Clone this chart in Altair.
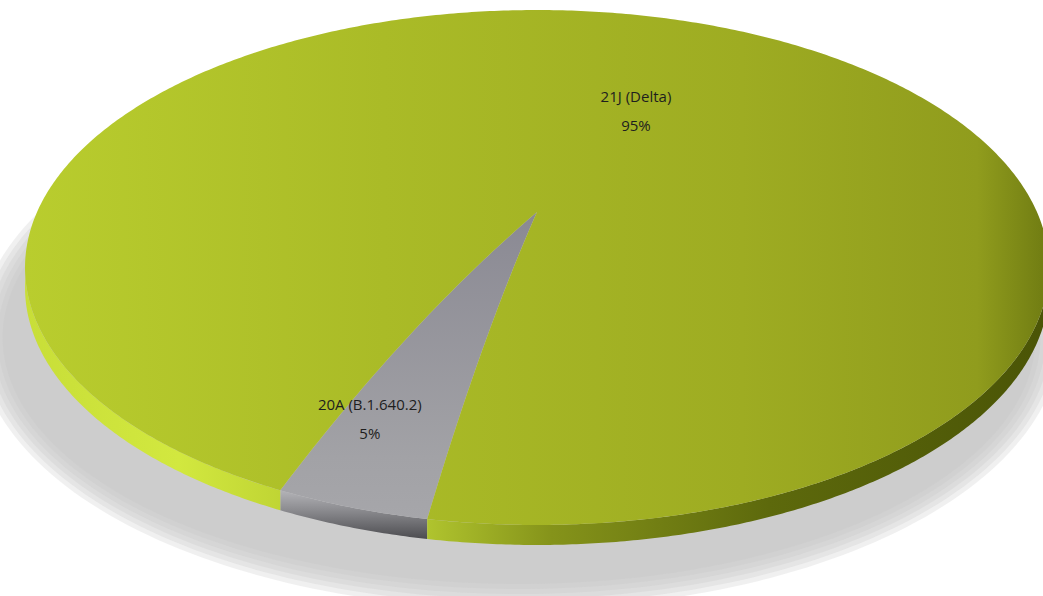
import numpy as np
import pandas as pd
import altair as alt

# ---------------- data ----------------
CATEGORIES = ["20A (B.1.640.2)", "21J (Delta)"]
VALUES = [5, 95]
PCT_LABELS = ["5%", "95%"]

# ---------------- view geometry (perspective, slightly domed pie) ----------------
W, H = 1043, 596
CX, CY = 537.0, 272.0      # projected pie centre (flat)
A, B = 511.9, 257.4        # horizontal / depth radius
K = -0.0175                # perspective strength
DOME = 60.0                # apparent lift of the centre
THICK = 20                 # visible thickness of the pie
START = 102.6              # angle of first slice (deg, clockwise from east)
LABEL_POLAR = [(116.0, 0.754), (293.4, 0.483)]   # label anchor (angle, radius)
SHADOW_SHIFT = (-18.0, 70.0)
SHADOW_SX = 1.03


def proj(u, v):
    w = 1 - K * v
    r2 = u * u + v * v
    return CX + A * u / w, CY + (B * v - DOME * (1 - r2)) / w


def arc(t0, t1, n, r=1.0):
    t = np.radians(np.linspace(t0, t1, n))
    return proj(r * np.cos(t), r * np.sin(t))


def ray(t, r0, r1, n):
    r = np.linspace(r0, r1, n)
    tt = np.radians(t)
    return proj(r * np.cos(tt), r * np.sin(tt))


def poly_df(xs, ys):
    return pd.DataFrame({"x": xs, "y": ys, "i": np.arange(len(xs))})


total = float(sum(VALUES))
bounds = []
acc = START
for v in VALUES:
    span = 360.0 * v / total
    bounds.append((acc, acc + span))
    acc += span

X = alt.X("x:Q", scale=alt.Scale(domain=[0, W], nice=False, zero=False), axis=None)
Y = alt.Y("y:Q", scale=alt.Scale(domain=[0, H], nice=False, zero=False, reverse=True), axis=None)


def shape_layer(df, fill, opacity=1.0):
    return alt.Chart(df).mark_line(
        interpolate="linear-closed", fill=fill, strokeWidth=0, fillOpacity=opacity, clip=True
    ).encode(x=X, y=Y, order="i:Q")


def lin(stops, x1=0, y1=0, x2=1, y2=0):
    return alt.Gradient(
        gradient="linear", x1=x1, y1=y1, x2=x2, y2=y2,
        stops=[alt.GradientStop(color=c, offset=o) for o, c in stops],
    )


layers = []

# ---- soft shadow (pie outline, shifted and blurred) ----
ox, oy = arc(0, 360, 240)
ECX, ECY = CX, 267.0
for d in [14, 9, 4, -1, -6, -11]:
    sx = SHADOW_SX + d / 512.0
    sy = 1 + d / 258.0
    xs = ECX + (ox - ECX) * sx + SHADOW_SHIFT[0]
    ys = ECY + (oy - ECY) * sy + SHADOW_SHIFT[1]
    layers.append(shape_layer(poly_df(xs, ys), "#c2c2c2", 0.25))

# ---- sides ----
side_fills = {
    0: [lin([(0, "#b4b4b8"), (0.4, "#8c8c90"), (1, "#4c4c50")], 0, 0, 0, 1)],
    1: [lin([(0, "#c8de38"), (0.6, "#d2e83f"), (1, "#c0d534")], 0, 0, 1, 0),
        lin([(0, "#b0c42e"), (0.2, "#85931a"), (0.55, "#5d690c"), (1, "#4a5406")], 0, 0, 1, 0)],
}
for si, (s0, s1) in enumerate(bounds):
    piece = 0
    for k in (0, 1):
        lo, hi = max(s0, 360 * k), min(s1, 180 + 360 * k)
        if lo < hi:
            n = max(int((hi - lo) * 2), 20)
            tx, ty = arc(lo, hi, n)
            xs = np.concatenate([tx, tx[::-1]])
            ys = np.concatenate([ty, ty[::-1] + THICK])
            fills = side_fills[si]
            layers.append(shape_layer(poly_df(xs, ys), fills[min(piece, len(fills) - 1)]))
            piece += 1

# ---- top faces ----
top_fills = [
    lin([(0, "#8a8993"), (0.8, "#a2a2a6"), (1, "#a6a6aa")], 0, 0, 0, 1),
    lin([(0, "#b9cd2e"), (0.35, "#aabb27"), (0.7, "#9eac22"), (0.93, "#909c1d"), (1, "#6f7b12")], 0, 0.5, 1, 0.5),
]
for si, (s0, s1) in enumerate(bounds):
    n = max(int((s1 - s0) * 2), 20)
    r0x, r0y = ray(s0, 0.0, 1.0, 60)
    ax_, ay_ = arc(s0, s1, n)
    r1x, r1y = ray(s1, 1.0, 0.0, 60)
    xs = np.concatenate([r0x, ax_, r1x])
    ys = np.concatenate([r0y, ay_, r1y])
    layers.append(shape_layer(poly_df(xs, ys), top_fills[si]))

# ---- labels ----
lx, ly = [], []
for ang, r in LABEL_POLAR:
    t = np.radians(ang)
    px, py = proj(r * np.cos(t), r * np.sin(t))
    lx.append(px)
    ly.append(py)
lab = pd.DataFrame({"x": lx, "y": ly, "cat": CATEGORIES, "pct": PCT_LABELS})
txt = dict(font="Open Sans", fontSize=15, color="#1e1e1e", align="center", baseline="middle")
layers.append(alt.Chart(lab).mark_text(dy=-14, **txt).encode(x=X, y=Y, text="cat:N"))
layers.append(alt.Chart(lab).mark_text(dy=15, **txt).encode(x=X, y=Y, text="pct:N"))

chart = alt.layer(*layers).properties(
    width=W, height=H, padding=0, autosize="none", background="white"
).configure_view(strokeWidth=0)

chart.save("out.html", embed_options={"renderer": "svg", "actions": False})
